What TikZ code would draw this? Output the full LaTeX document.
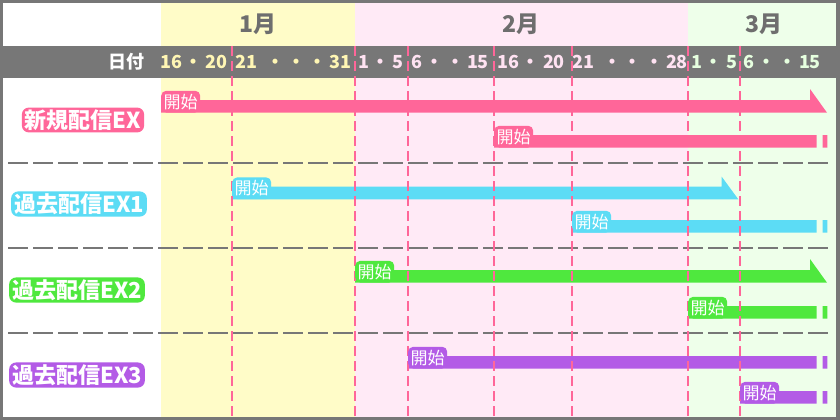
\documentclass[tikz,border=0pt]{standalone}
\usepackage{fontspec}
\setmainfont{Noto Sans CJK JP}

\definecolor{framegrey}{HTML}{777777}
\definecolor{monthgrey}{HTML}{6E6E6E}
\definecolor{bandjan}{HTML}{FFFCC8}
\definecolor{bandfeb}{HTML}{FFEAF6}
\definecolor{bandmar}{HTML}{EEFFEA}
\definecolor{txtjan}{HTML}{FFF6B4}
\definecolor{txtfeb}{HTML}{FFE2F2}
\definecolor{txtmar}{HTML}{E6FFDF}
\definecolor{expink}{HTML}{FF6699}
\definecolor{excyan}{HTML}{5CDCF5}
\definecolor{exgreen}{HTML}{4FE83E}
\definecolor{expurple}{HTML}{B35BE6}

\begin{document}
\begin{tikzpicture}[x=1pt,y=-1pt,
  month/.style={text=monthgrey,font=\fontsize{23}{23}\selectfont\bfseries},
  datelabel/.style={text=#1,font=\fontsize{18}{18}\selectfont\bfseries,inner sep=0pt},
  rowlabel/.style={fill=#1,text=white,font=\fontsize{22}{22}\selectfont\bfseries,
    rounded corners=7pt,inner xsep=3pt,inner ysep=2pt},
  startlabel/.style={fill=#1,text=white,font=\fontsize{17}{17}\selectfont,
    rounded corners=5pt,inner xsep=2.5pt,inner ysep=3pt,anchor=south west},
  rowsep/.style={framegrey,line width=2pt,dash pattern=on 20pt off 5pt},
  dayline/.style={expink,line width=2pt,dash pattern=on 10pt off 5pt}]
\useasboundingbox (0,0) rectangle (840,420);
% frame and month bands
\fill[framegrey] (0,0) rectangle (840,420);
\fill[white] (3,3) rectangle (161,417);
\fill[bandjan] (161,3) rectangle (355,417);
\fill[bandfeb] (355,3) rectangle (688,417);
\fill[bandmar] (688,3) rectangle (836,417);
\fill[framegrey] (3,46) rectangle (836,78);
% months
\node[month] (jan) at (258,24) {1月};
\node[month] (feb) at (521,24) {2月};
\node[month] (mar) at (764,24) {3月};
% dates
\node[datelabel=white] (hizuke) at (126,62) {日付};
\node[datelabel=txtjan] (d1) at (194,62) {16\,・\,20};
\node[datelabel=txtjan] (d2) at (293.5,62) {21\hspace{9pt}・\,・\,・\,31};
\node[datelabel=txtfeb] (d3) at (381,62) {1\,・\,5};
\node[datelabel=txtfeb] (d4) at (450,62) {6\,・\,・\,15};
\node[datelabel=txtfeb] (d5) at (531,62) {16\,・\,20};
\node[datelabel=txtfeb] (d6) at (630,62) {21\hspace{9pt}・\,・\,・\,28};
\node[datelabel=txtmar] (d7) at (714,62) {1\,・\,5};
\node[datelabel=txtmar] (d8) at (782,62) {6\,・\,・\,15};
% row separators
\draw[rowsep] (8,163) -- (828,163);
\draw[rowsep] (8,248) -- (828,248);
\draw[rowsep] (8,333) -- (828,333);
% bars
\fill[expink] (161,100) -- (810,100) -- (810,89) -- (827,112.7) -- (161,112.7) -- cycle;
\fill[expink] (494,135) rectangle (816.7,147.7) (822.7,135) rectangle (827.3,147.7);
\fill[excyan] (232,186.7) -- (721.7,186.7) -- (721.7,176.7) -- (738.3,199.3) -- (232,199.3) -- cycle;
\fill[excyan] (572,220) rectangle (816.7,232.7) (822.7,220) rectangle (827.3,232.7);
\fill[exgreen] (355,270) -- (810,270) -- (810,259) -- (827,282.7) -- (355,282.7) -- cycle;
\fill[exgreen] (688,306) rectangle (816.7,318.7) (822.7,306) rectangle (827.3,318.7);
\fill[expurple] (408,356) rectangle (816.7,368.7) (822.7,356) rectangle (827.3,368.7);
\fill[expurple] (740,391) rectangle (816.7,403.7) (822.7,391) rectangle (827.3,403.7);
% day lines
\foreach \x in {232,355,408,494,572,688,740}
  \draw[dayline] (\x,46) -- (\x,417);
% row labels
\node[rowlabel=expink] (ex0) at (83,120) {新規配信EX};
\node[rowlabel=excyan] (ex1) at (79,204) {過去配信EX1};
\node[rowlabel=exgreen] (ex2) at (77,290) {過去配信EX2};
\node[rowlabel=expurple] (ex3) at (77,375) {過去配信EX3};
% start labels
\node[startlabel=expink] (s0a) at (161,112.7) {開始};
\node[startlabel=expink] (s0b) at (494,147.7) {開始};
\node[startlabel=excyan] (s1a) at (232,199.3) {開始};
\node[startlabel=excyan] (s1b) at (572,232.7) {開始};
\node[startlabel=exgreen] (s2a) at (355,282.7) {開始};
\node[startlabel=exgreen] (s2b) at (688,318.7) {開始};
\node[startlabel=expurple] (s3a) at (408,368.7) {開始};
\node[startlabel=expurple] (s3b) at (740,403.7) {開始};
\end{tikzpicture}
\end{document}
